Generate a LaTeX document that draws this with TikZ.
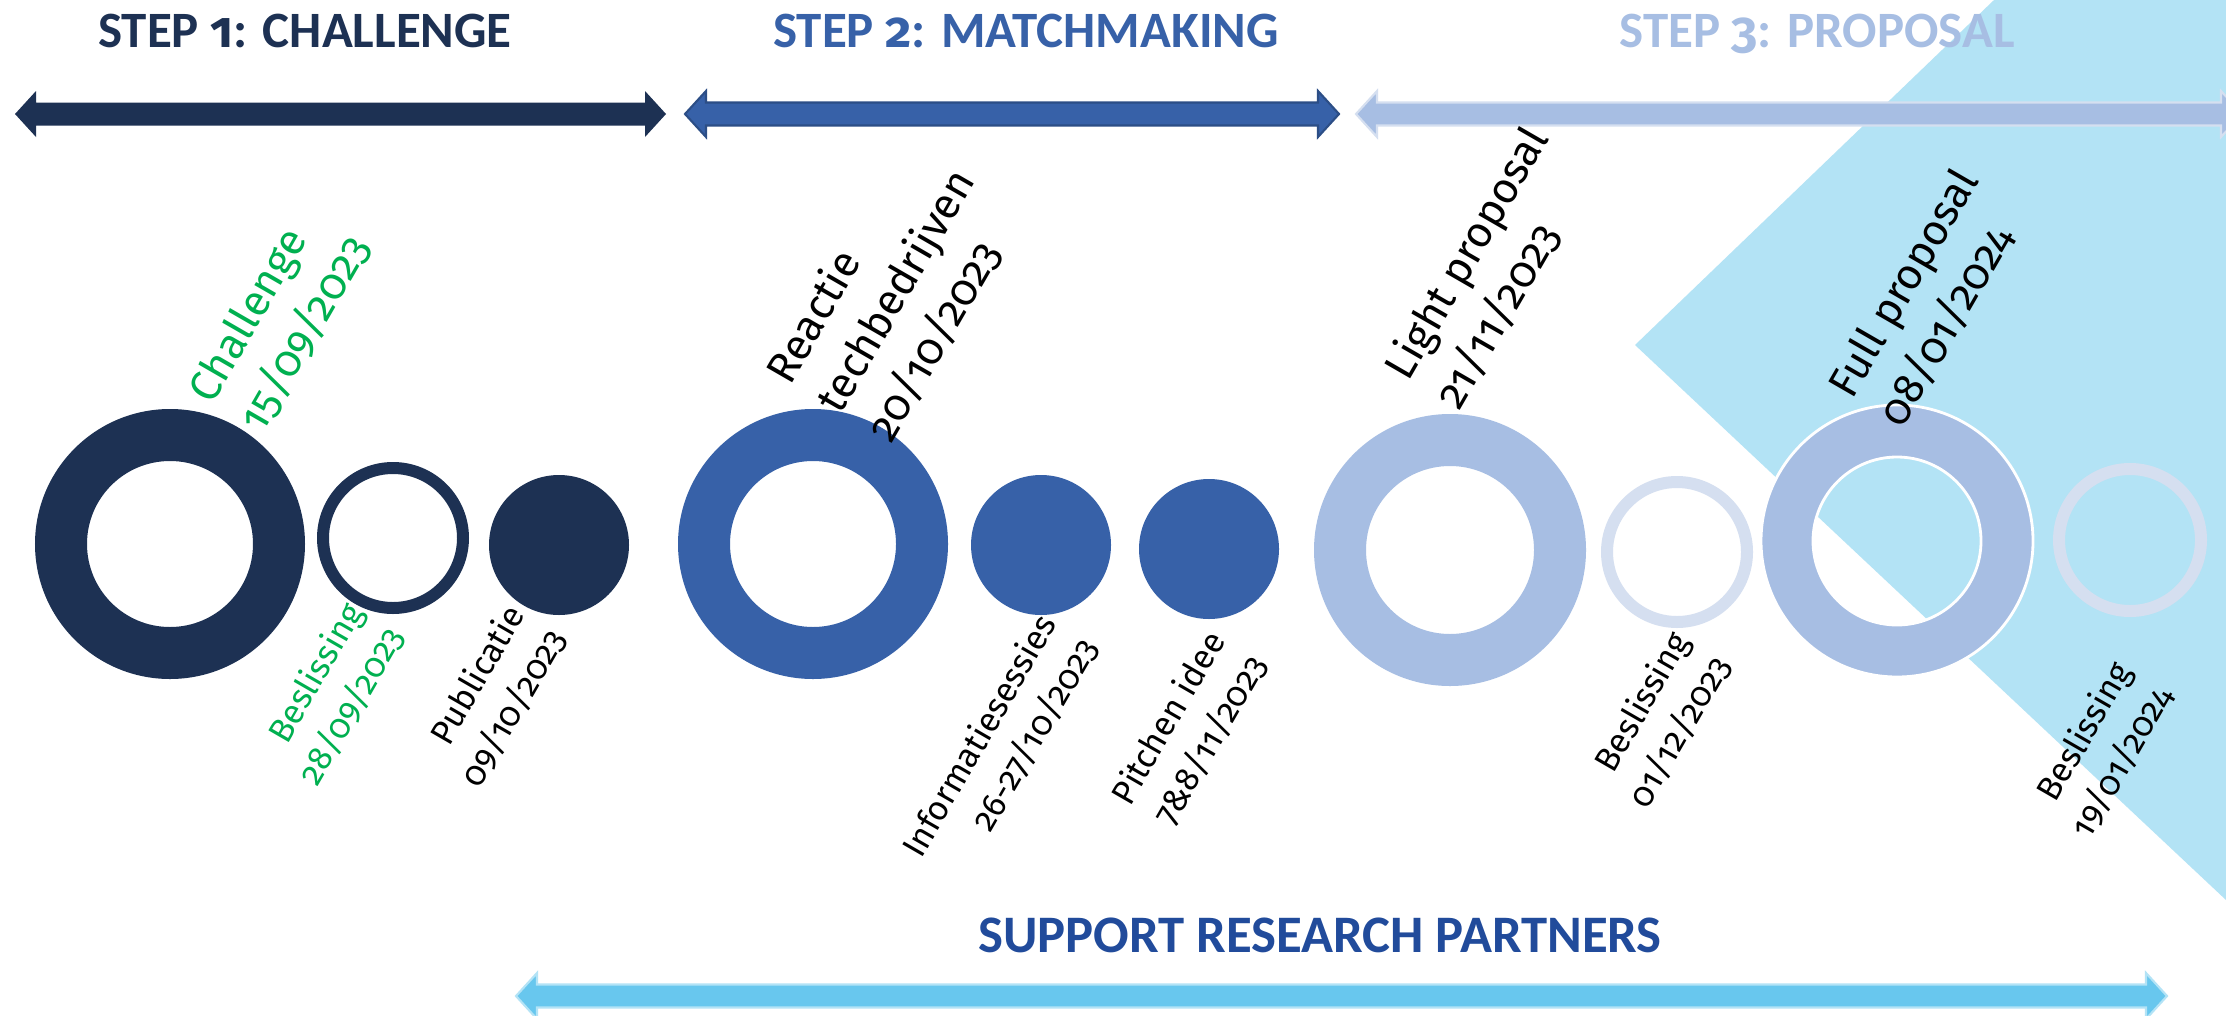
\documentclass[tikz,border=0pt]{standalone}
\usepackage{fontspec}
\setmainfont{Carlito}
\newfontfamily\osf{Fira Sans}[Numbers=OldStyle]
\usetikzlibrary{calc}

\definecolor{navy}{RGB}{29,49,83}
\definecolor{midblue}{RGB}{55,97,168}
\definecolor{lightblue}{RGB}{167,190,227}
\definecolor{paleblue}{RGB}{213,223,240}
\definecolor{skyblue}{RGB}{179,227,245}
\definecolor{supportblue}{RGB}{104,199,238}
\definecolor{supporttext}{RGB}{33,75,155}
\definecolor{okgreen}{RGB}{0,176,80}

\tikzset{
 phasetitle/.style={font=\bfseries\fontsize{14.5}{16}\selectfont, anchor=base},
 toplbl/.style={rotate=60, align=left, inner sep=0pt, font=\osf\fontsize{12.3}{16.5}\selectfont},
 botlbl/.style={rotate=60, align=right, inner sep=0pt, font=\osf\fontsize{9.7}{13.5}\selectfont},
 }

% double headed bar: style, left tip x, right tip x, y
\newcommand{\phasearrow}[4]{%
 \filldraw[#1] (#2,#4) -- ++(0.21,0.23) -- ++(0,-0.115) -- ($(#3,#4)+(-0.21,0.115)$) -- ++(0,0.115)
   -- (#3,#4) -- ++(-0.21,-0.23) -- ++(0,0.115) -- ($(#2,#4)+(0.21,-0.115)$) -- ++(0,-0.115) -- cycle;}

\begin{document}
\begin{tikzpicture}
        \useasboundingbox (0,0) rectangle (22.26,10.15);
        \fill[white] (0,0) rectangle (22.26,10.15);
        \fill[skyblue] (19.94,10.15) -- (16.35,6.70) -- (22.26,1.15) -- (22.26,10.15) -- cycle;

        \node[phasetitle, navy] (step1) at (3.05,9.67) {STEP {\osf 1}: CHALLENGE};
        \node[phasetitle, midblue] (step2) at (10.26,9.67) {STEP {\osf 2}: MATCHMAKING};
        \node[phasetitle, lightblue] (step3) at (18.17,9.67) {STEP {\osf 3}: PROPOSAL};

        \phasearrow{navy, draw=none}{0.15}{6.66}{9.01}
        \phasearrow{midblue, draw=midblue!80!black, line width=0.6pt}{6.85}{13.39}{9.01}
        \phasearrow{lightblue, draw=paleblue, line width=0.6pt}{13.56}{22.42}{9.01}
        \phasearrow{supportblue, draw=supportblue!50!white, line width=0.6pt}{5.16}{21.67}{0.19}

        \fill[navy, even odd rule] (1.70,4.71) circle (1.35) circle (0.83);
        \fill[navy, even odd rule] (3.93,4.77) circle (0.76) circle (0.64);
        \fill[navy] (5.59,4.70) circle (0.70);

        \fill[midblue, even odd rule] (8.13,4.71) circle (1.35) circle (0.83);
        \fill[midblue] (10.41,4.70) circle (0.70);
        \fill[midblue] (12.09,4.66) circle (0.70);

        \fill[lightblue, even odd rule] (14.50,4.65) circle (1.36) circle (0.84);
        \fill[paleblue, even odd rule] (16.77,4.63) circle (0.76) circle (0.64);
        \filldraw[lightblue, draw=white, line width=0.8pt, even odd rule] (18.97,4.74) circle (1.36) circle (0.84);
        \fill[paleblue, even odd rule] (21.30,4.75) circle (0.77) circle (0.65);

        \node[toplbl, okgreen] (challenge) at (2.80,6.96) {Challenge\\15/09/2023};
        \node[botlbl, okgreen] (decision1) at (3.31,3.21) {Beslissing\\28/09/2023};
        \node[botlbl] (publication) at (4.93,3.19) {Publicatie\\09/10/2023};
        \node[toplbl] (reaction) at (8.96,7.24) {Reactie\\techbedrijven\\20/10/2023};
        \node[botlbl] (infosessions) at (10.00,2.67) {Informatiesessies\\26-27/10/2023};
        \node[botlbl] (pitch) at (11.89,2.85) {Pitchen idee\\7\&8/11/2023};
        \node[toplbl] (lightprop) at (14.92,7.47) {Light proposal\\21/11/2023};
        \node[botlbl] (decision2) at (16.59,2.95) {Beslissing\\01/12/2023};
        \node[toplbl] (fullprop) at (19.29,7.17) {Full proposal\\08/01/2024};
        \node[botlbl] (decision3) at (21.01,2.65) {Beslissing\\19/01/2024};

        \node[font=\bfseries\fontsize{15}{17}\selectfont, supporttext, anchor=base] (support) at (13.20,0.63) {SUPPORT RESEARCH PARTNERS};
    \end{tikzpicture}
\end{document}
